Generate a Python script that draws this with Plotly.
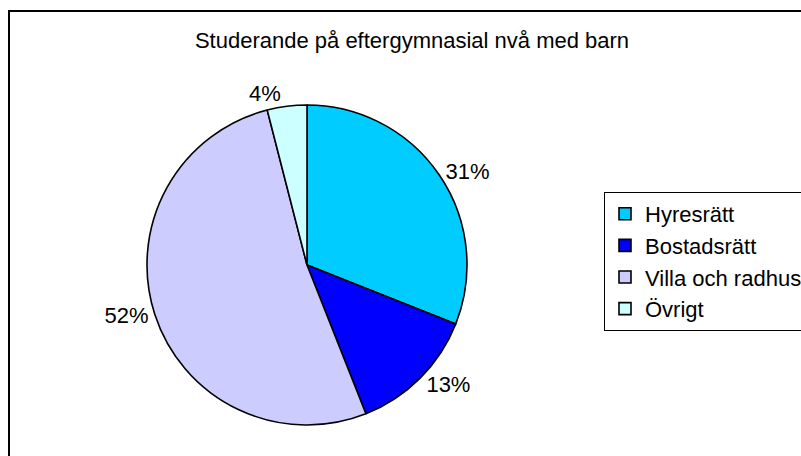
import plotly.graph_objects as go

categories = ["Hyresrätt", "Bostadsrätt", "Villa och radhus", "Övrigt"]
values = [31, 13, 52, 4]
colors = ["#00CCFF", "#0000FF", "#CCCCFF", "#CCFFFF"]
title_text = "Studerande på eftergymnasial nvå med barn"

W, H = 801, 456
FONT = "Arial, 'Liberation Sans', sans-serif"

# pie placement (pixels)
cx, cy, r = 307, 265, 160

fig = go.Figure()
fig.add_trace(go.Pie(
    labels=categories,
    values=values,
    sort=False,
    direction="clockwise",
    rotation=0,
    marker=dict(colors=colors, line=dict(color="black", width=1.6)),
    texttemplate="%{percent:.0%}",
    textposition="outside",
    outsidetextfont=dict(family=FONT, size=22, color="black"),
    hoverinfo="label+percent",
    domain=dict(x=[(cx - r) / W, (cx + r) / W],
                y=[(H - cy - r) / H, (H - cy + r) / H]),
))

fig.update_layout(
    width=W, height=H,
    margin=dict(l=0, r=0, t=0, b=0, autoexpand=False),
    paper_bgcolor="white",
    plot_bgcolor="white",
    font=dict(family=FONT, color="black", size=22),
    title=dict(text=title_text, x=412 / W, xanchor="center",
               y=1 - 40 / H, yanchor="middle", yref="container",
               font=dict(family=FONT, size=22, color="black")),
    showlegend=True,
    legend=dict(x=604 / W, xanchor="left", y=1 - 192 / H, yanchor="top",
                bordercolor="black", borderwidth=1, bgcolor="white",
                font=dict(family=FONT, size=22, color="black"),
                traceorder="normal"),
    shapes=[dict(type="rect", xref="paper", yref="paper",
                 x0=9 / W, x1=1.05, y0=-0.05, y1=1 - 11 / H,
                 line=dict(color="black", width=2), fillcolor="rgba(0,0,0,0)",
                 layer="below")],
)

fig.write_html("out.html", config={"displayModeBar": False},
               post_script="document.body.style.margin='0';")
